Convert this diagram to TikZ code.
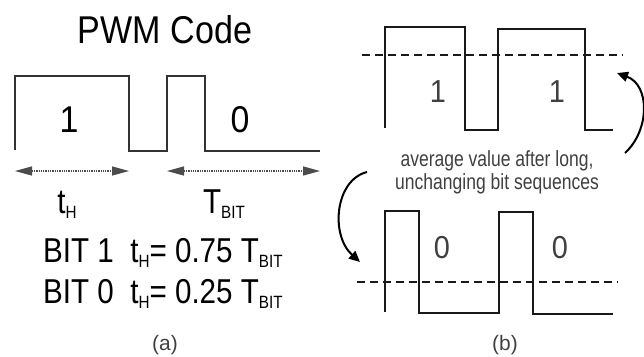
\documentclass[tikz,border=0pt]{standalone}
\usepackage{fontspec}
\usepackage{graphicx}
\setmainfont{Liberation Sans}
\usetikzlibrary{arrows.meta}
\newcommand{\sz}[1]{\fontsize{#1}{#1}\selectfont}
\newcommand{\subs}[2]{\raisebox{-0.16em}{\sz{#1}#2}}
\begin{document}
\begin{tikzpicture}[x=1bp,y=-1bp,
  lwave/.style={draw=black!80,line width=1.3bp,line join=miter},
  rwave/.style={draw=black!90,line width=2.4bp,line join=miter},
  avg/.style={draw=black!90,line width=1.8bp,dash pattern=on 8bp off 5bp},
  span/.style={draw=black!70,line width=1.3bp,densely dotted,
    {Triangle[length=17bp,width=9bp]}-{Triangle[length=17bp,width=9bp]}},
  curvearrow/.style={draw=black,line width=2bp,-{Triangle[length=11bp,width=10bp]}},
  lbl/.style={inner sep=0pt,text=black},
  note/.style={inner sep=0pt,text=black!75}]
\useasboundingbox (0,0) rectangle (644,356);
\fill[white] (0,0) rectangle (644,356);
% ---------- (a)
\node[lbl] (title) at (165,30) {\scalebox{0.95}[1.08]{\sz{36}PWM Code}};
\draw[lwave] (15,150) -- (15,76) -- (129,76) -- (129,151) -- (167,151) -- (167,76) -- (205,76) -- (205,151) -- (320,151);
\node[lbl] (one) at (69,120) {\scalebox{1}[1.1]{\sz{34}1}};
\node[lbl] (zero) at (240,120) {\scalebox{1}[1.1]{\sz{34}0}};
\coordinate (a1) at (15,171);
\coordinate (a2) at (129,171);
\coordinate (a3) at (167,171);
\coordinate (a4) at (320,171);
\draw[span] (a1) -- (a2);
\draw[span] (a3) -- (a4);
\node[lbl,anchor=base] (tH) at (67,213) {\scalebox{0.9}[1.05]{\sz{33}t\subs{17}{H}}};
\node[lbl,anchor=base] (TBIT) at (224,213) {\scalebox{0.9}[1.05]{\sz{33}T\subs{17}{BIT}}};
\node[lbl,anchor=base west] (bit1) at (43,262) {\scalebox{0.9}[1.05]{\sz{33}BIT 1\ \ t\subs{17}{H}= 0.75 T\subs{17}{BIT}}};
\node[lbl,anchor=base west] (bit0) at (43,303) {\scalebox{0.9}[1.05]{\sz{33}BIT 0\ \ t\subs{17}{H}= 0.25 T\subs{17}{BIT}}};
\node[note] (capa) at (165,345) {\sz{21}(a)};
% ---------- (b)
\draw[rwave] (385,128) -- (385,27) -- (465,27) -- (465,130) -- (498,130) -- (498,29) -- (585,29) -- (585,130) -- (613,130);
\coordinate (d1) at (362,55);
\coordinate (d2) at (623,55);
\draw[avg] (d1) -- (d2);
\node[note] (b1) at (438,92) {\scalebox{1}[1.1]{\sz{29}1}};
\node[note] (b2) at (557,92) {\scalebox{1}[1.1]{\sz{29}1}};
\node[note,anchor=base] (txt1) at (497,166) {\scalebox{0.88}[1.1]{\sz{20}average value after long,}};
\node[note,anchor=base] (txt2) at (497,189) {\scalebox{0.88}[1.1]{\sz{20}unchanging bit sequences}};
\draw[rwave] (385,312) -- (385,211) -- (419,211) -- (419,313) -- (499,313) -- (499,212) -- (533,212) -- (533,314) -- (613,314);
\coordinate (d3) at (357,282);
\coordinate (d4) at (618,282);
\draw[avg] (d3) -- (d4);
\node[note] (b3) at (442,248) {\scalebox{1}[1.1]{\sz{29}0}};
\node[note] (b4) at (560,248) {\scalebox{1}[1.1]{\sz{29}0}};
\node[note] (capb) at (505,345) {\sz{21}(b)};
% curved arrows
\coordinate (r0) at (625,153);
\coordinate (r1) at (617,73);
\draw[curvearrow] (r0) .. controls (650,130) and (650,85) .. (r1);
\coordinate (l0) at (367,172);
\coordinate (l1) at (360,262);
\draw[curvearrow] (l0) .. controls (335,180) and (330,235) .. (l1);
\end{tikzpicture}
\end{document}
